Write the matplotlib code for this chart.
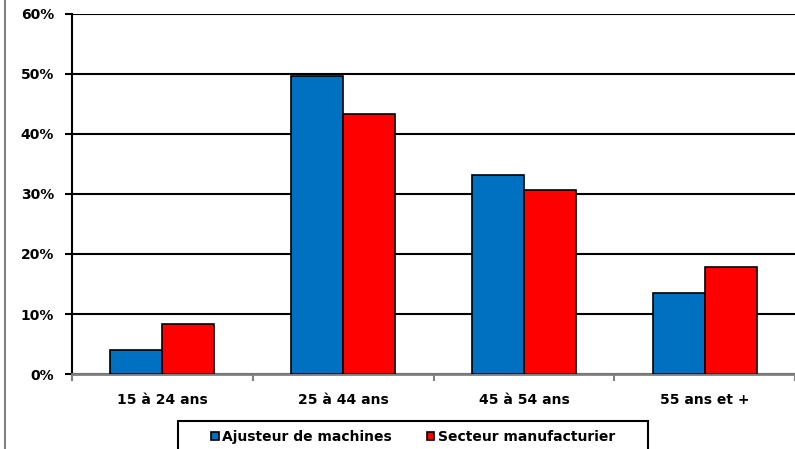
import matplotlib.pyplot as plt
import numpy as np
from matplotlib.lines import Line2D
from matplotlib.patches import Rectangle

plt.rcParams['font.family'] = ['DejaVu Sans']

categories = ["15 à 24 ans", "25 à 44 ans", "45 à 54 ans", "55 ans et +"]
ajusteur = [4.0, 49.6, 33.2, 13.5]
secteur = [8.3, 43.3, 30.7, 17.8]
series_names = ["Ajusteur de machines", "Secteur manufacturier"]

fig = plt.figure(figsize=(7.95, 4.49), dpi=100)
ax = fig.add_axes([0.0906, 0.167, 0.9094, 0.802])

x = np.arange(len(categories))
w = 0.2875
ax.bar(x - w/2, ajusteur, w, color='#0070C0', edgecolor='black', linewidth=1.2,
       label=series_names[0], zorder=3)
ax.bar(x + w/2, secteur, w, color='#FF0000', edgecolor='black', linewidth=1.2,
       label=series_names[1], zorder=3)

ax.set_xlim(-0.5, 3.5)
ax.set_ylim(0, 60)
ax.set_yticks(range(0, 61, 10))
ax.set_yticklabels([f"{v}%" for v in range(0, 61, 10)], fontweight='bold', fontsize=10)
ax.yaxis.grid(True, color='black', linewidth=1.5, zorder=0)
ax.set_axisbelow(True)

# category labels between boundary ticks
ax.set_xticks(x)
ax.set_xticklabels(categories, fontweight='bold', fontsize=10)
ax.tick_params(axis='x', length=0, pad=14)
ax.set_xticks(np.arange(-0.5, 4.0, 1.0), minor=True)
ax.tick_params(axis='x', which='minor', length=5, color='#808080', width=1.5)
ax.tick_params(axis='y', length=5, width=1.5, color='black', pad=8)

ax.spines['top'].set_visible(False)
ax.spines['right'].set_visible(False)
ax.spines['left'].set_linewidth(1.5)
ax.spines['bottom'].set_color('#808080')
ax.spines['bottom'].set_linewidth(2)

# left border line of the original frame
fig.add_artist(Line2D([0.006, 0.006], [0, 1], color='#808080', linewidth=1.5))

# legend box (cut by the bottom edge)
fig.add_artist(Rectangle((0.224, -0.1), 0.591, 0.1624, transform=fig.transFigure,
                         facecolor='white', edgecolor='black', linewidth=1.5))
leg = fig.legend(loc='center', bbox_to_anchor=(0.5195, 0.027),
                 ncol=2, frameon=False,
                 handlelength=0.55, handleheight=0.55, handletextpad=0.25,
                 columnspacing=2.5, prop={'weight': 'bold', 'size': 10})

fig.savefig('out.png', dpi=100)
